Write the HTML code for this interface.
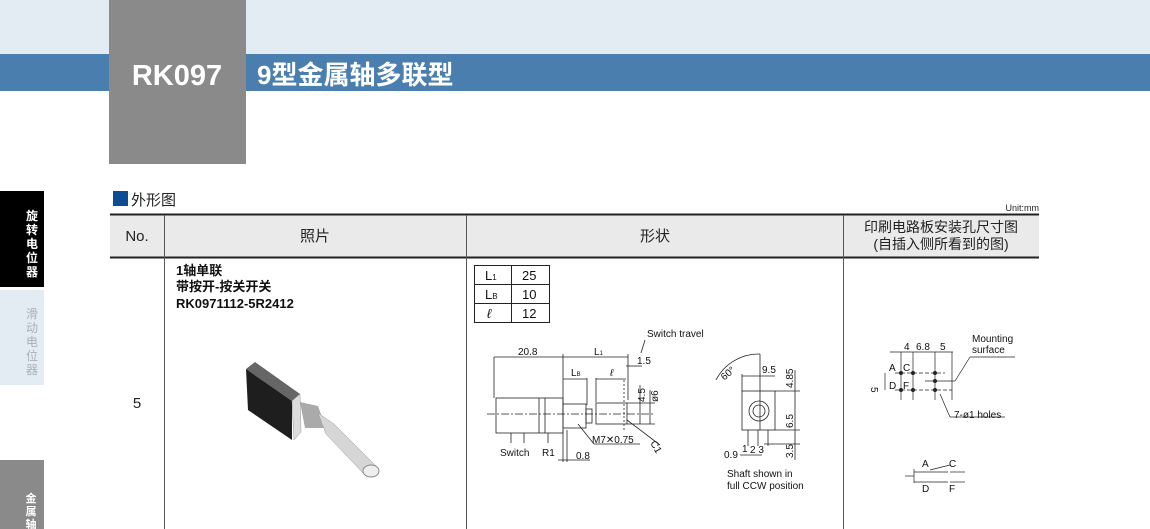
<!DOCTYPE html>
<html><head><meta charset="utf-8"><style>
body{margin:0;width:1150px;height:529px;overflow:hidden;background:#fff;font-family:"Liberation Sans","Noto Sans CJK SC",sans-serif}
svg{display:block}
text{font-family:"Liberation Sans","Noto Sans CJK SC",sans-serif}
</style></head><body>
<svg width="1150" height="529" viewBox="0 0 1150 529" xmlns="http://www.w3.org/2000/svg">
<rect x="0" y="0" width="1150" height="54" fill="#e3ebf3"/>
<rect x="0" y="54" width="1150" height="37" fill="#4a7eae"/>
<rect x="109" y="0" width="137" height="164" fill="#8a8a8a"/>
<text x="177" y="85" font-size="29" font-weight="bold" fill="#fff" text-anchor="middle">RK097</text>
<text x="257" y="84" font-size="26" font-weight="bold" fill="#fff">9型金属轴多联型</text>
<!-- sidebar -->
<rect x="0" y="191" width="44" height="96" fill="#000"/>
<text font-size="12" font-weight="bold" fill="#fff" text-anchor="middle"><tspan x="32" y="220">旋</tspan><tspan x="32" y="234">转</tspan><tspan x="32" y="248">电</tspan><tspan x="32" y="262">位</tspan><tspan x="32" y="276">器</tspan></text>
<rect x="0" y="290" width="44" height="95" fill="#e3ebf3"/>
<text font-size="12" fill="#aab0b8" text-anchor="middle"><tspan x="32" y="318">滑</tspan><tspan x="32" y="332">动</tspan><tspan x="32" y="346">电</tspan><tspan x="32" y="360">位</tspan><tspan x="32" y="374">器</tspan></text>
<rect x="0" y="460" width="44" height="69" fill="#8a8a8a"/>
<text font-size="11" font-weight="bold" fill="#fff" text-anchor="middle"><tspan x="31" y="502">金</tspan><tspan x="31" y="515">属</tspan><tspan x="31" y="528">轴</tspan></text>
<!-- section title -->
<rect x="113" y="191" width="15" height="15" fill="#0a4d94"/>
<text x="131" y="205" font-size="15" fill="#222">外形图</text>
<text x="1039" y="211" font-size="9" fill="#222" text-anchor="end">Unit:mm</text>
<!-- table -->
<rect x="110" y="215" width="929" height="42" fill="#eaeaea"/>
<line x1="110" y1="214.5" x2="1039" y2="214.5" stroke="#222" stroke-width="2"/>
<line x1="110" y1="257.5" x2="1039" y2="257.5" stroke="#222" stroke-width="2"/>
<g stroke="#555" stroke-width="1">
<line x1="164.5" y1="215" x2="164.5" y2="529"/>
<line x1="466.5" y1="215" x2="466.5" y2="529"/>
<line x1="843.5" y1="215" x2="843.5" y2="529"/>
</g>
<g font-size="15" fill="#222" text-anchor="middle">
<text x="137" y="241">No.</text>
<text x="315" y="241">照片</text>
<text x="655" y="241">形状</text>
<text x="941" y="232" font-size="14">印刷电路板安装孔尺寸图</text>
<text x="941" y="249" font-size="14">(自插入侧所看到的图)</text>
<text x="137" y="408">5</text>
</g>
<g font-size="13" font-weight="bold" fill="#111">
<text x="176" y="275">1轴单联</text>
<text x="176" y="291">带按开-按关开关</text>
<text x="176" y="308">RK0971112-5R2412</text>
</g>
<!-- photo -->
<g>
<polygon points="246,369 255,362 300,394 292,401" fill="#666"/>
<polygon points="246,369 292,401 292,440 248,410" fill="#1e1e1e"/>
<polygon points="292,401 300,394 301,432 294,440" fill="#ddd" stroke="#999" stroke-width="0.5"/>
<polygon points="300,402 318,406 326,428 305,428" fill="#aaa"/>
<polygon points="318,413 334,424 378,468 364,474 326,434" fill="#d6d6d6" stroke="#999" stroke-width="0.5"/>
<ellipse cx="371" cy="471" rx="8" ry="6" fill="#eee" stroke="#888"/>
</g>
<!-- L table -->
<g stroke="#222" stroke-width="1" fill="none">
<rect x="474.5" y="265.5" width="75" height="57"/>
<line x1="474" y1="284.5" x2="550" y2="284.5"/>
<line x1="474" y1="303.5" x2="550" y2="303.5"/>
<line x1="511.5" y1="265" x2="511.5" y2="323"/>
</g>
<g font-size="13" fill="#111">
<text x="485" y="280">L<tspan font-size="8">1</tspan></text>
<text x="485" y="299">L<tspan font-size="8">B</tspan></text>
<text x="487" y="318" font-style="italic" font-family="Liberation Serif">ℓ</text>
<text x="522" y="280">25</text><text x="522" y="299">10</text><text x="522" y="318">12</text>
</g>
<!-- side view drawing -->
<g stroke="#222" stroke-width="0.8" fill="none">
<line x1="494" y1="357" x2="494" y2="398"/><line x1="563" y1="354" x2="563" y2="405"/>
<line x1="494" y1="357" x2="563" y2="357"/><line x1="563" y1="357" x2="628" y2="357"/>
<line x1="628" y1="354" x2="628" y2="400"/>
<line x1="563" y1="379" x2="587" y2="379"/><line x1="587" y1="378" x2="587" y2="405"/>
<line x1="596" y1="379" x2="626" y2="379"/><line x1="596" y1="378" x2="596" y2="402"/>
<line x1="626" y1="366" x2="642" y2="366"/>
<line x1="645" y1="340" x2="641" y2="353"/>
<rect x="496" y="398" width="67" height="35"/>
<line x1="539" y1="398" x2="539" y2="433"/><line x1="545" y1="398" x2="545" y2="433"/>
<rect x="563" y="404" width="23" height="24"/>
<rect x="586" y="409" width="6" height="14"/>
<rect x="596" y="403" width="31" height="21"/>
<line x1="487" y1="414" x2="655" y2="414" stroke-dasharray="8 2 2 2"/>
<line x1="624" y1="380" x2="624" y2="430" stroke-dasharray="2 2"/>
<line x1="627" y1="403" x2="655" y2="403"/><line x1="627" y1="424" x2="655" y2="424"/>
<line x1="640" y1="385" x2="640" y2="424"/><line x1="650" y1="390" x2="650" y2="424"/>
<line x1="511" y1="433" x2="511" y2="443"/><line x1="524" y1="433" x2="524" y2="443"/>
<line x1="548" y1="433" x2="548" y2="443"/><line x1="563" y1="430" x2="563" y2="462"/><line x1="567" y1="430" x2="567" y2="462"/>
<line x1="558" y1="460" x2="590" y2="460"/>
<line x1="578" y1="424" x2="594" y2="444"/><line x1="594" y1="444" x2="640" y2="444"/>
<line x1="627" y1="420" x2="660" y2="445"/>
</g>
<g font-size="10" fill="#111">
<text x="647" y="337">Switch travel</text>
<text x="518" y="355">20.8</text><text x="594" y="355">L<tspan font-size="6">1</tspan></text>
<text x="637" y="364">1.5</text>
<text x="571" y="376">L<tspan font-size="6">B</tspan></text>
<text x="610" y="376" font-style="italic">ℓ</text>
<text x="645" y="402" transform="rotate(-90 645 402)">4.5</text>
<text x="658" y="402" transform="rotate(-90 658 402)">ø6</text>
<text x="592" y="443">M7✕0.75</text>
<text x="650" y="443" transform="rotate(60 650 443)">C1</text>
<text x="500" y="456">Switch</text><text x="542" y="456">R1</text>
<text x="576" y="459">0.8</text>
</g>
<!-- front view -->
<g stroke="#222" stroke-width="0.8" fill="none">
<rect x="742" y="391" width="33" height="39"/>
<circle cx="759" cy="411" r="10"/><circle cx="759" cy="411" r="6"/>
<path d="M716 380 A48 48 0 0 1 760 354"/>
<line x1="760" y1="354" x2="760" y2="430"/>
<line x1="742" y1="376" x2="775" y2="376"/><line x1="742" y1="374" x2="742" y2="391"/>
<line x1="775" y1="391" x2="800" y2="391"/><line x1="775" y1="430" x2="800" y2="430"/>
<line x1="764" y1="444" x2="800" y2="444"/>
<line x1="795" y1="370" x2="795" y2="460"/>
<line x1="748" y1="430" x2="748" y2="446"/><line x1="758" y1="430" x2="758" y2="446"/><line x1="768" y1="430" x2="768" y2="446"/>
<line x1="740" y1="455" x2="762" y2="455"/>
</g>
<g font-size="10" fill="#111">
<text x="720" y="375" transform="rotate(-40 730 372)">60°</text>
<text x="762" y="373">9.5</text>
<text x="793" y="388" transform="rotate(-90 793 388)">4.85</text>
<text x="793" y="428" transform="rotate(-90 793 428)">6.5</text>
<text x="793" y="458" transform="rotate(-90 793 458)">3.5</text>
<text x="724" y="458">0.9</text><text x="742" y="452">1</text><text x="750" y="453">2 3</text>
<text x="727" y="477">Shaft shown in</text>
<text x="727" y="489">full CCW position</text>
</g>
<!-- PCB holes -->
<g stroke="#222" stroke-width="0.7" fill="none">
<line x1="890" y1="352" x2="953" y2="352"/>
<line x1="901" y1="352" x2="901" y2="400"/><line x1="913" y1="352" x2="913" y2="400"/>
<line x1="935" y1="352" x2="935" y2="400"/><line x1="952" y1="352" x2="952" y2="400"/>
<line x1="895" y1="373" x2="945" y2="373" stroke-dasharray="4 2"/>
<line x1="895" y1="390" x2="952" y2="390" stroke-dasharray="4 2"/>
<line x1="925" y1="381" x2="955" y2="381"/>
<line x1="955" y1="381" x2="970" y2="357"/><line x1="970" y1="357" x2="1015" y2="357"/>
<line x1="940" y1="394" x2="950" y2="417"/><line x1="950" y1="417" x2="1005" y2="417"/>
<line x1="885" y1="373" x2="885" y2="390"/>
<line x1="914" y1="472" x2="948" y2="472"/><line x1="914" y1="482" x2="948" y2="482"/>
<line x1="905" y1="476" x2="914" y2="476"/><line x1="914" y1="469" x2="914" y2="483"/>
<line x1="930" y1="470" x2="950" y2="465"/><line x1="950" y1="472" x2="965" y2="472"/><line x1="950" y1="482" x2="965" y2="482"/>
</g>
<g fill="#222"><circle cx="901" cy="373" r="2"/><circle cx="913" cy="373" r="2"/><circle cx="935" cy="373" r="2"/><circle cx="901" cy="390" r="2"/><circle cx="913" cy="390" r="2"/><circle cx="935" cy="390" r="2"/><circle cx="935" cy="381" r="2"/></g>
<g font-size="10" fill="#111">
<text x="904" y="350">4</text><text x="916" y="350">6.8</text><text x="940" y="350">5</text>
<text x="972" y="342">Mounting</text><text x="972" y="353">surface</text>
<text x="889" y="371">A</text><text x="903" y="371">C</text>
<text x="889" y="389">D</text><text x="903" y="389">F</text>
<text x="882" y="386" transform="rotate(90 876 381)">5</text>
<text x="954" y="418">7-ø1 holes</text>
<text x="922" y="467">A</text><text x="949" y="467">C</text>
<text x="922" y="492">D</text><text x="949" y="492">F</text>
</g>
</svg>
</body></html>
